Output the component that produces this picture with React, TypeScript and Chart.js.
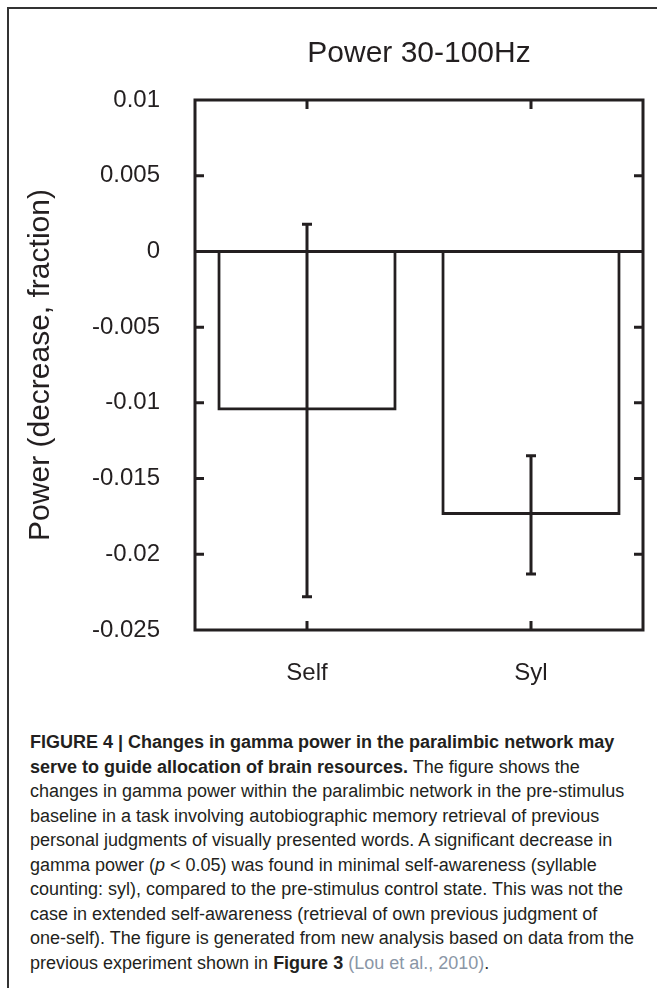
import React, { useEffect, useRef } from "react";
import { Chart, registerables } from "chart.js";

Chart.register(...registerables);

const categories = ["Self", "Syl"];
const means = [-0.0105, -0.0174];
const errUpper = [0.0018, -0.0135];
const errLower = [-0.0228, -0.0213];
const yTicks = [0.01, 0.005, 0, -0.005, -0.01, -0.015, -0.02, -0.025];
const yTickLabels = ["0.01", "0.005", "0", "-0.005", "-0.01", "-0.015", "-0.02", "-0.025"];
const chartTitle = "Power 30-100Hz";
const yAxisTitle = "Power (decrease, fraction)";

const INK = "#231f20";
const FONT = "'Liberation Sans', Arial, Helvetica, sans-serif";

const boxPlugin = {
  id: "boxAndErrors",
  afterDatasetsDraw(chart: any) {
    const { ctx, chartArea, scales } = chart;
    const { left, right, top, bottom } = chartArea;
    const ys = scales.y;
    const xs = scales.x;
    const tick = 9;
    ctx.save();
    ctx.strokeStyle = INK;
    ctx.lineWidth = 3;
    ctx.lineCap = "butt";
    yTicks.forEach((v) => {
      const py = ys.getPixelForValue(v);
      if (Math.abs(py - top) < 2 || Math.abs(py - bottom) < 2) return;
      ctx.beginPath();
      ctx.moveTo(left, py);
      ctx.lineTo(left + tick, py);
      ctx.moveTo(right, py);
      ctx.lineTo(right - tick, py);
      ctx.stroke();
    });
    categories.forEach((_, i) => {
      const px = xs.getPixelForValue(i);
      ctx.beginPath();
      ctx.moveTo(px, top);
      ctx.lineTo(px, top + tick);
      ctx.moveTo(px, bottom);
      ctx.lineTo(px, bottom - tick);
      ctx.stroke();
    });
    const meta = chart.getDatasetMeta(0);
    meta.data.forEach((bar: any, i: number) => {
      const px = bar.x;
      const yHi = ys.getPixelForValue(errUpper[i]);
      const yLo = ys.getPixelForValue(errLower[i]);
      const cap = 5;
      ctx.beginPath();
      ctx.moveTo(px, yHi);
      ctx.lineTo(px, yLo);
      ctx.moveTo(px - cap, yHi);
      ctx.lineTo(px + cap, yHi);
      ctx.moveTo(px - cap, yLo);
      ctx.lineTo(px + cap, yLo);
      ctx.stroke();
    });
    ctx.strokeRect(left, top, right - left, bottom - top);
    ctx.restore();
  },
};

function BarChart() {
  const ref = useRef<HTMLCanvasElement>(null);
  useEffect(() => {
    if (!ref.current) return;
    const chart = new Chart(ref.current, {
      type: "bar",
      data: {
        labels: categories,
        datasets: [
          {
            data: means,
            backgroundColor: "rgba(255,255,255,0)",
            borderColor: INK,
            borderWidth: 3,
            borderSkipped: "start",
            barPercentage: 0.8,
            categoryPercentage: 1.0,
          },
        ],
      },
      options: {
        responsive: false,
        animation: false,
        layout: { padding: { left: 0, right: 14, top: 0, bottom: 0 } },
        plugins: {
          legend: { display: false },
          tooltip: { enabled: false },
          title: {
            display: true,
            fullSize: false,
            text: chartTitle,
            color: INK,
            font: { family: FONT, size: 30, weight: "normal" },
            padding: { top: 36, bottom: 28 },
          },
        },
        scales: {
          x: {
            type: "category",
            offset: true,
            grid: { display: false, drawTicks: false },
            border: { display: false },
            ticks: {
              color: INK,
              font: { family: FONT, size: 24 },
              padding: 29,
            },
            afterFit: (s: any) => {
              s.height = 80;
            },
          },
          y: {
            min: -0.025,
            max: 0.01,
            afterBuildTicks: (s: any) => {
              s.ticks = yTicks.map((v) => ({ value: v }));
            },
            ticks: {
              color: INK,
              font: { family: FONT, size: 24 },
              padding: 35,
              callback: (_v: any, i: number) => yTickLabels[i],
            },
            grid: {
              drawTicks: false,
              lineWidth: 3,
              color: (c: any) => (c.tick && c.tick.value === 0 ? INK : "rgba(0,0,0,0)"),
            },
            border: { display: false },
            title: {
              display: true,
              text: yAxisTitle,
              color: INK,
              font: { family: FONT, size: 30 },
              padding: { top: 23, bottom: 0 },
            },
            afterFit: (s: any) => {
              s.width = 195;
            },
          },
        },
      },
      plugins: [boxPlugin],
    });
    return () => chart.destroy();
  }, []);
  return <canvas ref={ref} width={657} height={710} style={{ display: "block" }} />;
}

const captionLines: React.ReactNode[] = [
  <><b>FIGURE 4 | Changes in gamma power in the paralimbic network may</b></>,
  <><b>serve to guide allocation of brain resources.</b> The figure shows the</>,
  <>changes in gamma power within the paralimbic network in the pre-stimulus</>,
  <>baseline in a task involving autobiographic memory retrieval of previous</>,
  <>personal judgments of visually presented words. A significant decrease in</>,
  <>gamma power (<i>p</i> &lt; 0.05) was found in minimal self-awareness (syllable</>,
  <>counting: syl), compared to the pre-stimulus control state. This was not the</>,
  <>case in extended self-awareness (retrieval of own previous judgment of</>,
  <>one-self). The figure is generated from new analysis based on data from the</>,
  <>previous experiment shown in <b>Figure 3</b> <span style={{ color: "#8a96a6" }}>(Lou et al., 2010)</span>.</>,
];

export default function App() {
  useEffect(() => {
    document.body.style.margin = "0";
  }, []);
  return (
    <div style={{ position: "relative", width: 657, height: 988, overflow: "hidden", background: "#fff" }}>
      <div
        style={{
          position: "absolute",
          left: 7,
          top: 7,
          right: -10,
          bottom: -10,
          borderTop: "2px solid #333",
          borderLeft: "2px solid #333",
        }}
      />
      <div style={{ position: "absolute", left: 0, top: 0 }}>
        <BarChart />
      </div>
      <div
        style={{
          position: "absolute",
          left: 30,
          top: 730,
          fontFamily: "'Liberation Sans', Arial, sans-serif",
          fontSize: 18,
          lineHeight: "24.5px",
          color: INK,
          whiteSpace: "nowrap",
        }}
      >
        {captionLines.map((l, i) => (
          <div key={i}>{l}</div>
        ))}
      </div>
    </div>
  );
}
